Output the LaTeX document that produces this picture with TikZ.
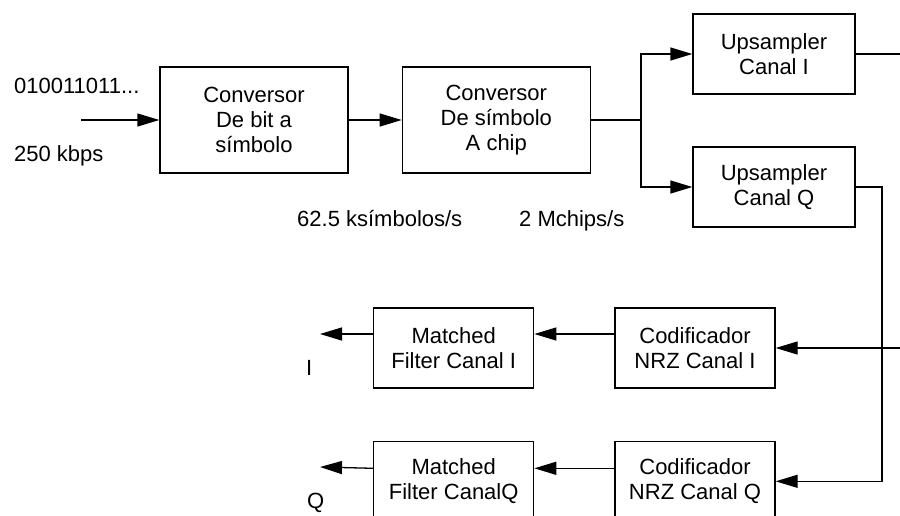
\documentclass[tikz,border=0pt]{standalone}
\usepackage{fontspec}
\setmainfont{Liberation Sans}
\usetikzlibrary{arrows.meta, positioning}

\begin{document}
\begin{tikzpicture}[
  x=1pt, y=-1pt,
  font=\fontsize{22}{25}\selectfont,
  block/.style={
    rectangle, draw, line width=1.3pt,
    align=center, inner sep=0pt
  },
  bigblock/.style={block, minimum width=188pt, minimum height=106pt},
  smallblock/.style={block, minimum width=160pt, minimum height=80pt},
  rate/.style={anchor=base west, inner sep=0pt},
  wire/.style={draw, line width=1.3pt},
  line/.style={wire, -{Triangle[length=22pt, width=13pt]}}
]

  \useasboundingbox (0,0) rectangle (900,515);
  \clip (0,0) rectangle (900,515);

  \node [bigblock] (bitsym) at (254,120) {Conversor\\De bit a\\símbolo};
  \node [bigblock, right=53pt of bitsym] (symchip) {Conversor\\De símbolo\\A chip};
  \node [smallblock, minimum width=162pt] (upI) at (774,54) {Upsampler\\Canal I};
  \node [smallblock, minimum width=162pt] (upQ) at (774,187) {Upsampler\\Canal Q};
  \node [smallblock] (nrzI) at (695,348) {Codificador\\NRZ Canal I};
  \node [smallblock, left=80pt of nrzI] (mfI) {Matched\\Filter Canal I};
  \node [smallblock, below=52pt of nrzI] (nrzQ) {Codificador\\NRZ Canal Q};
  \node [smallblock, left=80pt of nrzQ] (mfQ) {Matched\\Filter CanalQ};

  % rates and labels
  \node [rate] (bits) at (14,93) {010011011...};
  \node [rate] (bitrate) at (14,161) {250 kbps};
  \node [rate] (symrate) at (297,226) {62.5 ksímbolos/s};
  \node [rate] (chiprate) at (519,226) {2 Mchips/s};
  \node [rate] (labI) at (306,375) {I};
  \node [rate] (labQ) at (307,508) {Q};

  \coordinate (bitsin) at (81,120);
  \coordinate (split) at (641,120);
  \coordinate (upIout) at (910,54);
  \coordinate (loopin) at (910,348);
  \coordinate (drop) at (882,187);
  \coordinate (outI) at (320,334);
  \coordinate (outQ) at (320,467);

  \path [line] (bitsin) -- (bitsym);
  \path [line] (bitsym) -- (symchip);
  \path [wire] (symchip) -- (split);
  \path [line] (split) |- (upI);
  \path [line] (split) |- (upQ);
  \path [wire] (upI) -- (upIout);
  \path [line] (upQ.east) -- (drop) |- (nrzQ.east);
  \path [line] (loopin) -- (nrzI.east);
  \path [line] ([yshift=14pt]nrzI.west) -- ([yshift=14pt]mfI.east);
  \path [line] ([yshift=14pt]mfI.west) -- (outI);
  \path [line] ([yshift=13pt]nrzQ.west) -- ([yshift=13pt]mfQ.east);
  \path [line] ([yshift=13pt]mfQ.west) -- (outQ);

\end{tikzpicture}
\end{document}
